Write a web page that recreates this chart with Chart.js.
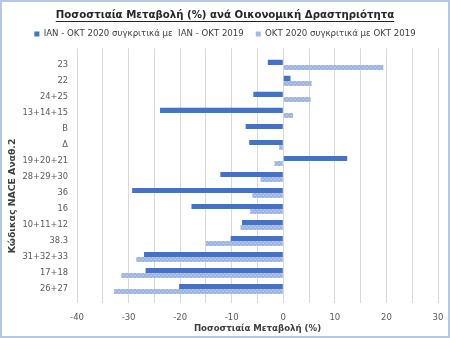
<!DOCTYPE html>
<html>
<head>
<meta charset="utf-8">
<script src="https://cdn.jsdelivr.net/npm/chart.js@4"></script>
<style>
    body { margin: 0; background: #fff; }
    #wrap { width: 450px; height: 338px; position: relative; }
</style>
</head>
<body>
<div id="wrap"><canvas id="naceChart"></canvas></div>
<script>
// Data
const categories = ['23', '22', '24+25', '13+14+15', 'Β', 'Δ', '19+20+21', '28+29+30', '36', '16', '10+11+12', '38.3', '31+32+33', '17+18', '26+27'];
const janOctValues = [-3.0, 1.4, -5.8, -23.9, -7.3, -6.6, 12.4, -12.2, -29.3, -17.8, -8.0, -10.2, -27.0, -26.7, -20.2];
const octValues = [19.4, 5.5, 5.3, 1.9, 0.0, -0.8, -1.7, -4.4, -6.0, -6.4, -8.3, -15.0, -28.5, -31.4, -32.8];
const seriesNames = ['ΙΑΝ - ΟΚΤ 2020 συγκριτικά με  ΙΑΝ - ΟΚΤ 2019', 'ΟΚΤ 2020 συγκριτικά με ΟΚΤ 2019'];
const xTicks = [-40, -30, -20, -10, 0, 10, 20, 30];

const FONT = 'DejaVu Sans';
const Y_TITLE = 'Κώδικας NACE Αναθ.2';

// light series gets a small dotted texture like the original
function makePattern() {
    const c = document.createElement('canvas');
    c.width = 4;
    c.height = 4;
    const g = c.getContext('2d');
    g.fillStyle = '#9EB5E1';
    g.fillRect(0, 0, 4, 4);
    g.fillStyle = '#B8CAEC';
    g.fillRect(0, 1, 2, 1);
    g.fillRect(2, 3, 2, 1);
    return g.createPattern(c, 'repeat');
}

// frame, title underline and the vertical axis title (sits low in the original)
const extrasPlugin = {
    id: 'extras',
    afterDraw(chart) {
        const ctx = chart.ctx;
        ctx.save();
        ctx.strokeStyle = '#B4C7E7';
        ctx.lineWidth = 2;
        ctx.strokeRect(1, 1, chart.width - 2, chart.height - 2);

        const tb = chart.titleBlock;
        ctx.font = 'bold 10.2px "' + FONT + '"';
        const w = ctx.measureText(chart.options.plugins.title.text).width;
        const cx = (tb.left + tb.right) / 2;
        ctx.strokeStyle = '#262626';
        ctx.lineWidth = 1;
        ctx.beginPath();
        ctx.moveTo(cx - w / 2, 21.5);
        ctx.lineTo(cx + w / 2, 21.5);
        ctx.stroke();

        ctx.translate(12.5, 196);
        ctx.rotate(-Math.PI / 2);
        ctx.font = 'bold 9.3px "' + FONT + '"';
        ctx.fillStyle = '#404040';
        ctx.textAlign = 'center';
        ctx.textBaseline = 'middle';
        ctx.fillText(Y_TITLE, 0, 0);
        ctx.restore();
    }
};

new Chart(document.getElementById('naceChart'), {
    type: 'bar',
    data: {
        labels: categories,
        datasets: [
            {
                label: seriesNames[0],
                data: janOctValues.map((v, i) => ({ x: v, y: i })),
                backgroundColor: '#4472C4',
                categoryPercentage: 0.63,
                barPercentage: 1.0
            },
            {
                label: seriesNames[1],
                data: octValues.map((v, i) => ({ x: v, y: i })),
                backgroundColor: makePattern(),
                categoryPercentage: 0.63,
                barPercentage: 1.0
            }
        ]
    },
    plugins: [extrasPlugin],
    options: {
        indexAxis: 'y',
        responsive: true,
        maintainAspectRatio: false,
        animation: false,
        layout: { padding: { left: 12, right: 12, top: 0, bottom: 2 } },
        plugins: {
            title: {
                display: true,
                text: 'Ποσοστιαία Μεταβολή (%) ανά Οικονομική Δραστηριότητα',
                color: '#262626',
                font: { family: FONT, size: 10.2, weight: 'bold' },
                padding: { top: 8.9, bottom: -3.5 }
            },
            legend: {
                position: 'top',
                labels: {
                    color: '#404040',
                    font: { family: FONT, size: 8.6 },
                    boxWidth: 5,
                    boxHeight: 5,
                    padding: 12,
                    generateLabels(chart) {
                        return chart.data.datasets.map((ds, i) => ({
                            text: ds.label,
                            fillStyle: i === 0 ? '#4472C4' : '#A5BAE3',
                            strokeStyle: 'transparent',
                            lineWidth: 0,
                            fontColor: '#404040',
                            datasetIndex: i
                        }));
                    }
                }
            },
            tooltip: { enabled: false }
        },
        scales: {
            x: {
                min: -40,
                max: 30,
                afterBuildTicks(scale) {
                    const t = [];
                    for (let v = -40; v <= 30; v += 5) t.push({ value: v });
                    scale.ticks = t;
                },
                ticks: {
                    color: '#595959',
                    font: { family: FONT, size: 8.5 },
                    padding: 10,
                    maxRotation: 0,
                    autoSkip: false,
                    callback: v => (xTicks.includes(v) ? String(v) : '')
                },
                grid: { color: '#D9D9D9', drawTicks: false },
                border: { display: false },
                title: {
                    display: true,
                    text: 'Ποσοστιαία Μεταβολή (%)',
                    color: '#404040',
                    font: { family: FONT, size: 8.6, weight: 'bold' },
                    padding: { top: 2, bottom: 2 }
                },
                afterFit(scale) {
                    scale.height = 33;
                    scale.paddingLeft = 0;
                    scale.paddingRight = 0;
                }
            },
            y: {
                type: 'linear',
                reverse: true,
                offset: false,
                min: -1.04,
                max: 14.875,
                afterBuildTicks(scale) {
                    scale.ticks = categories.map((c, i) => ({ value: i }));
                },
                ticks: {
                    color: '#595959',
                    font: { family: FONT, size: 8.3 },
                    padding: 9,
                    autoSkip: false,
                    callback: v => categories[v]
                },
                grid: { display: false, drawTicks: false, offset: false },
                border: { display: false },
                afterFit(scale) { scale.width = 65; }
            }
        }
    }
});
</script>
</body>
</html>
